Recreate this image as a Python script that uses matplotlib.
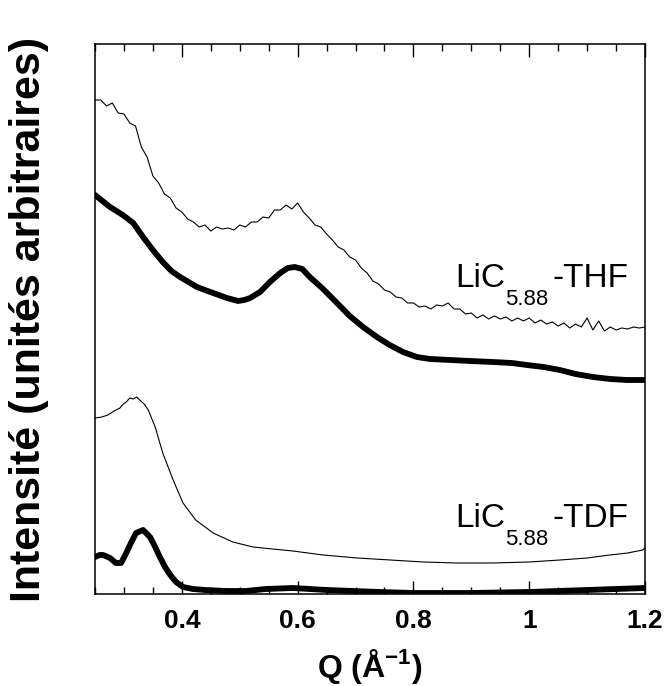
import matplotlib
matplotlib.use("Agg")
import matplotlib.pyplot as plt
from matplotlib.ticker import MultipleLocator
from matplotlib import font_manager

# ---------------- data ----------------
q_thin_thf = [0.25, 0.26, 0.27, 0.28, 0.29, 0.30, 0.31, 0.32, 0.33, 0.34,
              0.35, 0.36, 0.37, 0.38, 0.39, 0.40, 0.41, 0.42, 0.43, 0.44,
              0.45, 0.46, 0.47, 0.48, 0.49, 0.50, 0.51, 0.52, 0.53, 0.54,
              0.55, 0.56, 0.57, 0.58, 0.59, 0.60, 0.61, 0.62, 0.63, 0.64,
              0.65, 0.66, 0.67, 0.68, 0.69, 0.70, 0.71, 0.72, 0.73, 0.74,
              0.75, 0.76, 0.77, 0.78, 0.79, 0.80, 0.81, 0.82, 0.83, 0.84,
              0.85, 0.86, 0.87, 0.88, 0.89, 0.90, 0.91, 0.92, 0.93, 0.94,
              0.95, 0.96, 0.97, 0.98, 0.99, 1.00, 1.01, 1.02, 1.03, 1.04,
              1.05, 1.06, 1.07, 1.08, 1.09, 1.10, 1.11, 1.12, 1.13, 1.14,
              1.15, 1.16, 1.17, 1.18, 1.19, 1.20]
i_thin_thf = [494, 494, 488, 491, 481, 480, 471, 468, 447, 437,
              418, 411, 400, 396, 386, 382, 375, 372, 367, 369,
              363, 367, 365, 366, 364, 369, 367, 372, 372, 377,
              376, 384, 384, 389, 385, 391, 382, 376, 369, 367,
              360, 354, 347, 344, 337, 334, 326, 321, 313, 310,
              304, 302, 297, 296, 291, 291, 287, 288, 285, 289,
              288, 291, 285, 285, 280, 281, 276, 279, 275, 278,
              275, 277, 273, 276, 273, 276, 271, 274, 270, 272,
              268, 271, 266, 270, 267, 276, 264, 273, 263, 267,
              264, 266, 265, 267, 266, 267]

q_thick_thf = [0.250, 0.263, 0.276, 0.298, 0.316, 0.333, 0.350, 0.367,
               0.382, 0.397, 0.426, 0.454, 0.478, 0.497, 0.508, 0.518,
               0.535, 0.552, 0.570, 0.583, 0.595, 0.608, 0.621, 0.644,
               0.668, 0.690, 0.713, 0.737, 0.759, 0.782, 0.806, 0.829,
               0.863, 0.898, 0.937, 0.970, 0.996, 1.025, 1.053, 1.080,
               1.110, 1.140, 1.169, 1.200]
i_thick_thf = [399, 393, 387, 379, 371, 357, 344, 332,
               323, 317, 307, 301, 296, 293, 294, 296,
               302, 312, 321, 326, 327, 325, 317, 305,
               291, 278, 267, 257, 249, 242, 237, 235,
               234, 233, 232, 231, 229, 227, 224, 220,
               217, 215, 214, 214]

q_thin_tdf = [0.250, 0.262, 0.272, 0.283, 0.293, 0.299, 0.304, 0.310,
              0.316, 0.322, 0.329, 0.335, 0.342, 0.354, 0.367, 0.385,
              0.402, 0.424, 0.454, 0.488, 0.523, 0.557, 0.592, 0.644,
              0.703, 0.760, 0.817, 0.875, 0.937, 1.000, 1.053, 1.100,
              1.139, 1.170, 1.196, 1.200]
i_thin_tdf = [176, 177, 179, 183, 186, 190, 192, 196,
              195, 197, 193, 190, 184, 167, 141, 114,
              91, 74, 61, 52, 47, 45, 43, 39,
              36, 34, 32, 31, 31, 32, 34, 36,
              39, 41, 44, 46]

q_thick_tdf = [0.250, 0.258, 0.264, 0.276, 0.286, 0.295, 0.304, 0.312,
               0.321, 0.333, 0.345, 0.354, 0.362, 0.371, 0.380, 0.390,
               0.402, 0.419, 0.440, 0.476, 0.511, 0.545, 0.592, 0.650,
               0.742, 0.800, 0.900, 1.000, 1.100, 1.200]
i_thick_tdf = [37, 39, 39, 36, 31, 31, 41, 51,
               61, 64, 57, 47, 37, 27, 19, 12,
               7, 5, 4, 3, 3, 5, 6, 4,
               2, 1, 1, 2, 4, 6]

xticks = [0.4, 0.6, 0.8, 1.0, 1.2]
xticklabels = ["0.4", "0.6", "0.8", "1", "1.2"]

label_main = "LiC"
label_sub = "5.88"
label_thf = "-THF"
label_tdf = "-TDF"

# ---------------- fonts ----------------
names = {f.name for f in font_manager.fontManager.ttflist}
bold_family = ["Liberation Sans Narrow", "Liberation Sans", "DejaVu Sans"] \
    if "Liberation Sans Narrow" in names else ["Liberation Sans", "DejaVu Sans"]
plt.rcParams["font.family"] = ["Liberation Sans", "DejaVu Sans"]
plt.rcParams["mathtext.fontset"] = "custom"
plt.rcParams["mathtext.rm"] = bold_family[0]
plt.rcParams["mathtext.bf"] = bold_family[0] + ":bold"

# ---------------- figure ----------------
fig = plt.figure(figsize=(6.65, 6.86), dpi=100)
ax = fig.add_axes([95 / 665, 92 / 686, 550 / 665, 550 / 686])

ax.plot(q_thin_thf, i_thin_thf, color="black", lw=0.8)
ax.plot(q_thick_thf, i_thick_thf, color="black", lw=4.2,
        solid_capstyle="round", solid_joinstyle="round")
ax.plot(q_thin_tdf, i_thin_tdf, color="black", lw=0.8)
ax.plot(q_thick_tdf, i_thick_tdf, color="black", lw=4.2,
        solid_capstyle="round", solid_joinstyle="round")

ax.set_xlim(0.25, 1.2)
ax.set_ylim(0, 550)

ax.set_xticks(xticks)
ax.set_xticklabels(xticklabels, family=bold_family, fontweight="bold", fontsize=19)
ax.xaxis.set_minor_locator(MultipleLocator(0.05))
ax.tick_params(axis="x", which="major", direction="in", length=9.5, width=1,
               top=True, bottom=True, pad=11)
ax.tick_params(axis="x", which="minor", direction="in", length=5, width=1,
               top=True, bottom=True)
ax.set_yticks([])
for s in ax.spines.values():
    s.set_linewidth(1.1)

ax.set_xlabel("Q (Å$^{\\mathbf{-1}}$)", family=bold_family, fontweight="bold",
              fontsize=23, labelpad=10)
ax.set_ylabel("Intensité (unités arbitraires)", family=bold_family,
              fontweight="bold", fontsize=31, labelpad=33)


def add_label(x, y, tail):
    ax.annotate(label_main, xy=(x, y), xytext=(0, 0), textcoords="offset pixels",
                fontsize=24, va="baseline", ha="left")
    ax.annotate(label_sub, xy=(x, y), xytext=(50, -18), textcoords="offset pixels",
                fontsize=16, va="baseline", ha="left")
    ax.annotate(tail, xy=(x, y), xytext=(97, 0), textcoords="offset pixels",
                fontsize=24, va="baseline", ha="left")


add_label(0.872, 307, label_thf)
add_label(0.872, 67, label_tdf)

fig.savefig("out.png", dpi=100)
